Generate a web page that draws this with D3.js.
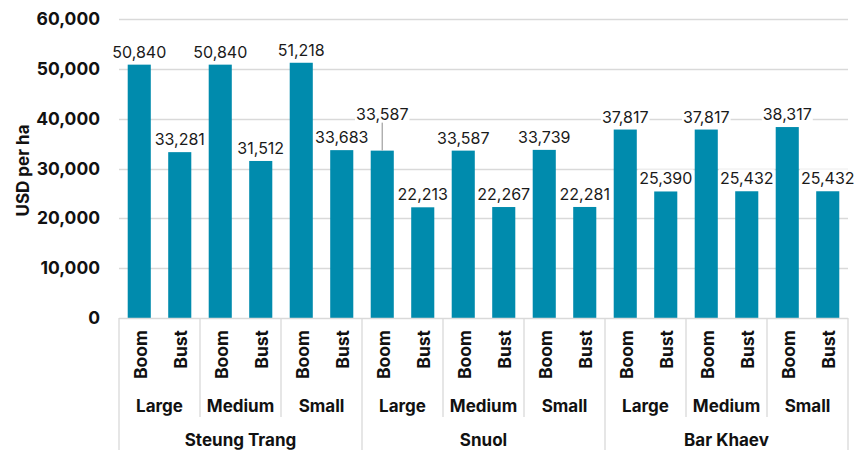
<!DOCTYPE html>
<html>
<head>
<meta charset="utf-8">
<script src="https://cdn.jsdelivr.net/npm/d3@7"></script>
<style>
  html, body { margin: 0; padding: 0; background: #fff; }
  svg { display: block; }
</style>
</head>
<body>
<svg id="chart" width="855" height="450"></svg>
<script>
// ---- data ----
const sites = ["Steung Trang", "Snuol", "Bar Khaev"];
const sizes = ["Large", "Medium", "Small"];
const scenarios = ["Boom", "Bust"];
const steungTrang = [50840, 33281, 50840, 31512, 51218, 33683];
const snuol = [33587, 22213, 33587, 22267, 33739, 22281];
const barKhaev = [37817, 25390, 37817, 25432, 38317, 25432];
const yTicks = [0, 10000, 20000, 30000, 40000, 50000, 60000];
const yTitle = "USD per ha";

(function () {
const seriesBySite = [steungTrang, snuol, barKhaev];
const rows = [];
sites.forEach((s, si) => {
  sizes.forEach((z, zi) => {
    scenarios.forEach((c, ci) => {
      rows.push({ site: s, size: z, scen: c, key: s + "|" + z + "|" + c, value: seriesBySite[si][zi * 2 + ci] });
    });
  });
});

// ---- layout ----
const svg = d3.select("#chart");
const pLeft = 119, pRight = 848, pTop = 19, pBottom = 318;
const barColor = "#008bad";
const gridColor = "#d9d9d9";
const font = "Inter, 'Open Sans', sans-serif";

const x = d3.scaleBand().domain(rows.map(d => d.key)).range([pLeft, pRight]).paddingInner(0.43).paddingOuter(0.215);
const y = d3.scaleLinear().domain([0, 60000]).range([pBottom, pTop]);

// gridlines
svg.append("g").selectAll("line").data(yTicks.filter(t => t > 0)).join("line")
  .attr("x1", pLeft).attr("x2", pRight)
  .attr("y1", d => Math.round(y(d)) + 0.5).attr("y2", d => Math.round(y(d)) + 0.5)
  .attr("stroke", gridColor).attr("stroke-width", 1.3);

// y axis labels
const yAxis = d3.axisLeft(y).tickValues(yTicks).tickSize(0).tickPadding(0).tickFormat(d3.format(","));
const yg = svg.append("g").attr("transform", `translate(${pLeft - 19},0)`).call(yAxis);
yg.select(".domain").remove();
yg.selectAll("text").attr("font-family", font).attr("font-weight", 700).attr("font-size", 17.5).attr("fill", "#111");

svg.append("text").attr("transform", `translate(23,${(pTop + pBottom) / 2 + 2}) rotate(-90)`)
  .attr("text-anchor", "middle").attr("dominant-baseline", "central")
  .attr("font-family", font).attr("font-weight", 700).attr("font-size", 17).attr("fill", "#111")
  .text(yTitle);

// bars
svg.append("g").selectAll("rect").data(rows).join("rect")
  .attr("x", d => x(d.key)).attr("width", x.bandwidth())
  .attr("y", d => y(d.value)).attr("height", d => y(0) - y(d.value))
  .attr("fill", barColor);

// category axis lines
const axisG = svg.append("g").attr("stroke", gridColor).attr("stroke-width", 1.3);
axisG.append("line").attr("x1", pLeft).attr("x2", pRight).attr("y1", pBottom + 0.5).attr("y2", pBottom + 0.5);
const step = x.step();
const groupW = step * 2;
for (let k = 0; k <= 9; k++) {
  const xx = pLeft + groupW * k;
  const isSite = k % 3 === 0;
  axisG.append("line").attr("x1", xx).attr("x2", xx).attr("y1", pBottom).attr("y2", isSite ? 450 : 417);
}

// scenario labels
svg.append("g").selectAll("text").data(rows).join("text")
  .attr("transform", d => `translate(${x(d.key) + x.bandwidth() / 2 + 1},330) rotate(-90)`)
  .attr("text-anchor", "end").attr("dominant-baseline", "central")
  .attr("font-family", font).attr("font-weight", 700).attr("font-size", 17.5).attr("fill", "#111")
  .text(d => d.scen);

// size labels
const sizeGroups = [];
sites.forEach(s => sizes.forEach(z => sizeGroups.push({ site: s, size: z })));
svg.append("g").selectAll("text").data(sizeGroups).join("text")
  .attr("x", (d, i) => pLeft + groupW * i + groupW / 2)
  .attr("y", 406).attr("text-anchor", "middle").attr("dominant-baseline", "central")
  .attr("font-family", font).attr("font-weight", 700).attr("font-size", 17).attr("fill", "#111")
  .text(d => d.size);

// site labels
svg.append("g").selectAll("text").data(sites).join("text")
  .attr("x", (d, i) => pLeft + groupW * 3 * i + groupW * 1.5)
  .attr("y", 440).attr("text-anchor", "middle").attr("dominant-baseline", "central")
  .attr("font-family", font).attr("font-weight", 700).attr("font-size", 17).attr("fill", "#111")
  .text(d => d);

// data labels (white boxes)
const fmt = d3.format(",");
const labelG = svg.append("g");
rows.forEach(d => {
  const cx = x(d.key) + x.bandwidth() / 2;
  const raised = d.key === "Snuol|Large|Boom";
  const ly = raised ? y(d.value) - 37 : y(d.value) - 13;
  if (raised) {
    labelG.append("line").attr("x1", cx).attr("x2", cx).attr("y1", ly + 8).attr("y2", y(d.value))
      .attr("stroke", "#a6a6a6").attr("stroke-width", 1.3);
  }
  const g = labelG.append("g");
  const rect = g.append("rect").attr("fill", "#fff");
  const t = g.append("text").attr("x", cx).attr("y", ly)
    .attr("text-anchor", "middle").attr("dominant-baseline", "central")
    .attr("font-family", font).attr("font-size", 16).attr("fill", "#1a1a1a")
    .text(fmt(d.value));
  const bb = t.node().getBBox();
  rect.attr("x", bb.x - 1).attr("y", bb.y + 1).attr("width", bb.width + 2).attr("height", bb.height - 2);
});
})();
</script>
</body>
</html>
